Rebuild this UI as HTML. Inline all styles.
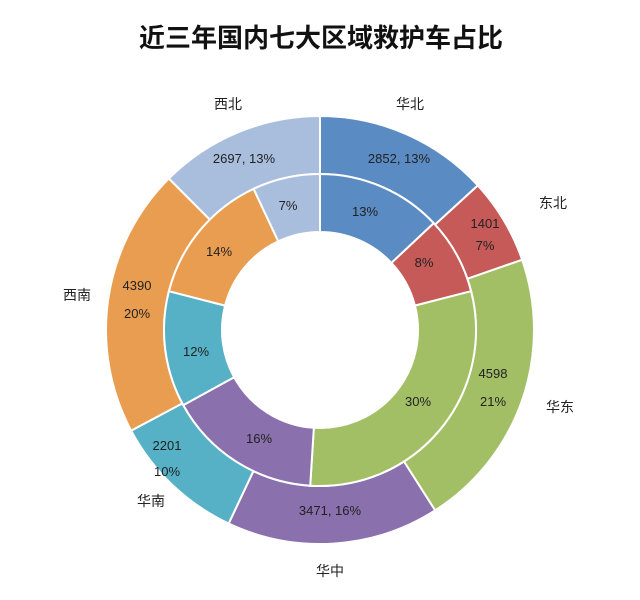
<!DOCTYPE html>
<html><head><meta charset="utf-8"><style>
html,body{margin:0;padding:0;background:#fff;}
svg{display:block;font-family:"Liberation Sans","Noto Sans CJK SC",sans-serif;}
</style></head><body>
<svg id="s" width="640" height="600" viewBox="0 0 640 600">
<rect width="640" height="600" fill="#fff"/>
<g id="rings"></g>
<text x="321" y="47" text-anchor="middle" font-size="26" font-weight="bold" fill="#111">近三年国内七大区域救护车占比</text>
<g font-size="14" fill="#222" text-anchor="middle">
<text x="228" y="109">西北</text>
<text x="410" y="109">华北</text>
<text x="553" y="208">东北</text>
<text x="560" y="412">华东</text>
<text x="330" y="576">华中</text>
<text x="151" y="506">华南</text>
<text x="77" y="300">西南</text>
</g>
<g font-size="13" fill="#222" text-anchor="middle">
<text x="399" y="163">2852, 13%</text>
<text x="485" y="228">1401</text>
<text x="485" y="250">7%</text>
<text x="493" y="378">4598</text>
<text x="493" y="406">21%</text>
<text x="330" y="515">3471, 16%</text>
<text x="167" y="450">2201</text>
<text x="167" y="476">10%</text>
<text x="137" y="290">4390</text>
<text x="137" y="318">20%</text>
<text x="244" y="163">2697, 13%</text>
<text x="365" y="216">13%</text>
<text x="424" y="267">8%</text>
<text x="418" y="406">30%</text>
<text x="259" y="443">16%</text>
<text x="196" y="356">12%</text>
<text x="219" y="256">14%</text>
<text x="288" y="210">7%</text>
</g>
</svg>
<script>
var cx=320,cy=330;
var outer=[2852,1401,4598,3471,2201,4390,2697];
var inner=[13,8,30,16,12,14,7];
var cols=["#5b8bc3","#c65a58","#a3bf66","#8a70ac","#56b1c6","#e99d50","#a9bddd"];
function pt(r,a){return [cx+r*Math.sin(a),cy-r*Math.cos(a)];}
function ring(vals,r0,r1){var t=vals.reduce(function(a,b){return a+b},0),a=0,h="";
vals.forEach(function(v,i){var a2=a+v/t*2*Math.PI,l=(a2-a)>Math.PI?1:0;
var p1=pt(r1,a),p2=pt(r1,a2),p3=pt(r0,a2),p4=pt(r0,a);
h+='<path d="M'+p1+' A'+r1+','+r1+' 0 '+l+' 1 '+p2+' L'+p3+' A'+r0+','+r0+' 0 '+l+' 0 '+p4+'Z" fill="'+cols[i]+'" stroke="#fff" stroke-width="2"/>';a=a2;});return h;}
document.getElementById("rings").innerHTML=ring(outer,156,214)+ring(inner,98,156);
</script>
</body></html>
